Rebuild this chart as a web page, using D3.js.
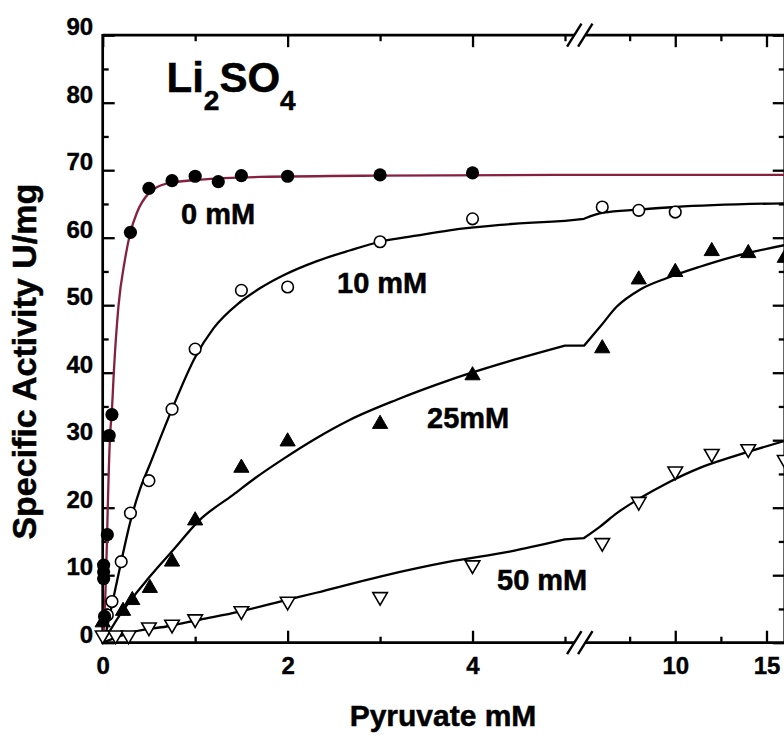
<!DOCTYPE html>
<html><head><meta charset="utf-8">
<script src="https://cdn.jsdelivr.net/npm/d3@7"></script>
<style>
html,body{margin:0;padding:0;background:#fff;}
svg{display:block;font-family:"Liberation Sans",Arial,sans-serif;font-weight:bold;}
</style></head>
<body><svg id="c" width="784" height="736"></svg>
<script>
// ---------- data ----------
const s0x = [0.02, 0.01, 0.01, 0.01, 0.05, 0.07, 0.1, 0.3, 0.5, 0.75, 1, 1.25, 1.5, 2, 3, 4];
const s0y = [3.9, 9.5, 10.5, 11.5, 16.0, 30.7, 33.8, 60.8, 67.3, 68.45, 69.1, 68.3, 69.2, 69.1, 69.3, 69.6];
const s10x = [0.05, 0.1, 0.2, 0.3, 0.5, 0.75, 1, 1.5, 2, 3, 4, 6, 8, 10];
const s10y = [4.1, 6.1, 12.0, 19.2, 24.0, 34.6, 43.5, 52.2, 52.7, 59.4, 62.8, 64.55, 64.05, 63.8];
const s25x = [0, 0.22, 0.32, 0.51, 0.75, 1, 1.5, 2, 3, 4, 6, 8, 10, 12, 14, 16];
const s25y = [3.0, 4.7, 6.3, 8.1, 12.0, 18.1, 25.9, 29.8, 32.4, 39.6, 43.6, 53.8, 54.9, 58.0, 57.7, 57.0];
const s50x = [0, 0.14, 0.28, 0.5, 0.75, 1, 1.5, 2, 3, 4, 6, 8, 10, 12, 14, 16];
const s50y = [1.1, 1.1, 1.1, 2.3, 2.7, 3.5, 4.7, 6.1, 6.8, 11.5, 14.8, 20.9, 25.4, 28.0, 28.7, 27.1];

// fitted curves, left part (0-5) and right part (5-16)
const c0ax = [0, 0.02, 0.047, 0.054, 0.079, 0.1, 0.12, 0.17, 0.24, 0.3, 0.37, 0.5, 0.69, 1.05, 1.7, 3, 5];
const c0ay = [0, 4, 15.6, 19.6, 30.5, 34.5, 40, 49.8, 56.7, 60.8, 63.7, 66.6, 68.0, 68.6, 69.0, 69.2, 69.3];
const c0bx = [5, 16];
const c0by = [69.3, 69.3];
const c10ax = [0.02, 0.1, 0.2, 0.3, 0.4, 0.51, 0.75, 1.0, 1.2, 1.48, 1.7, 1.95, 2.31, 2.67, 3.0, 3.39, 3.75, 4.3, 5];
const c10ay = [0.5, 5.6, 12.0, 18.0, 22.6, 26.4, 34.6, 42.3, 46.6, 50.4, 52.5, 54.4, 56.5, 58.1, 59.4, 60.3, 61.1, 61.9, 62.5];
const c10bx = [5, 6.06, 8, 10, 16];
const c10by = [62.8, 63.7, 64.15, 64.55, 65.1];
const c25ax = [0, 0.19, 0.51, 0.76, 1.05, 1.41, 1.65, 1.95, 2.31, 2.67, 3.18, 3.75, 4.4, 5];
const c25ay = [0, 4.2, 9.8, 13.7, 18.2, 21.9, 24.4, 27.2, 30.3, 33.0, 36.0, 38.9, 41.7, 44.0];
const c25bx = [5, 5.88, 6.8, 8.06, 9.52, 11.35, 13.2, 16];
const c25by = [44.0, 46.8, 49.8, 52.3, 54.0, 55.7, 57.2, 58.9];
const c50ax = [0, 0.33, 0.69, 1.05, 1.48, 1.95, 2.31, 3.0, 3.75, 4.4, 5];
const c50ay = [0, 1.6, 2.4, 3.4, 4.6, 6.2, 7.4, 9.8, 12.0, 13.5, 15.3];
const c50bx = [5, 5.88, 6.8, 8.06, 9.52, 11.35, 13.2, 16];
const c50by = [15.5, 17.2, 19.2, 21.4, 23.6, 25.9, 27.6, 29.9];

const yTicksMajor = [0,10,20,30,40,50,60,70,80,90];
const yTicksMinor = [5,15,25,35,45,55,65,75,85];
const xTicksMajorA = [0,2,4];
const xTicksMinorA = [1,3,5];
const xTicksMajorB = [10,15];
const xTicksMinorB = [7.5,12.5];

// ---------- scales ----------
const svg = d3.select("#c");
const x1 = d3.scaleLinear().domain([0,5]).range([102.7,565]);
const x2 = d3.scaleLinear().domain([5,16]).range([584,784.75]);
const xs = v => v <= 5 ? x1(v) : x2(v);
const y = d3.scaleLinear().domain([0,90]).range([642.7,35.2]);
const X0 = x1(0), X1 = x2(16), Y0 = y(0), Y1 = y(90);
const BR1 = x1(5) + 9.3, BR2 = x2(5) + 1.3;

// ---------- axes ----------
function styleAxis(g){ g.select(".domain").remove(); g.selectAll("line").attr("stroke","#000").attr("stroke-width",2.3); g.selectAll("text").attr("fill","#000").attr("stroke","#000").attr("stroke-width",0.4).style("font-size","24px").style("font-weight","bold").style("font-family","Liberation Sans, Arial, sans-serif"); }

svg.append("g").attr("transform",`translate(${X0},0)`).call(d3.axisLeft(y).tickValues(yTicksMajor).tickSize(-12).tickPadding(9.5)).call(styleAxis).selectAll("text").attr("y",-8);
svg.append("g").attr("transform",`translate(${X0},0)`).call(d3.axisLeft(y).tickValues(yTicksMinor).tickSize(-6).tickFormat("")).call(styleAxis);
svg.append("g").attr("transform",`translate(${X1},0)`).call(d3.axisRight(y).tickValues(yTicksMajor).tickSize(-12).tickFormat("")).call(styleAxis);
svg.append("g").attr("transform",`translate(${X1},0)`).call(d3.axisRight(y).tickValues(yTicksMinor).tickSize(-6).tickFormat("")).call(styleAxis);

[[x1,xTicksMajorA,xTicksMinorA],[x2,xTicksMajorB,xTicksMinorB]].forEach(([sc,maj,min])=>{
  svg.append("g").attr("transform",`translate(0,${Y0})`).call(d3.axisBottom(sc).tickValues(maj).tickSize(-12).tickPadding(14.3).tickFormat(d3.format("d"))).call(styleAxis);
  svg.append("g").attr("transform",`translate(0,${Y0})`).call(d3.axisBottom(sc).tickValues(min).tickSize(-6).tickFormat("")).call(styleAxis);
  svg.append("g").attr("transform",`translate(0,${Y1})`).call(d3.axisTop(sc).tickValues(maj).tickSize(-12).tickFormat("")).call(styleAxis);
  svg.append("g").attr("transform",`translate(0,${Y1})`).call(d3.axisTop(sc).tickValues(min).tickSize(-6).tickFormat("")).call(styleAxis);
});

// axis frame lines with break
const frame = svg.append("g").attr("stroke","#000").attr("stroke-width",2.7).attr("fill","none");
frame.append("line").attr("x1",X0).attr("x2",X0).attr("y1",Y1-1.3).attr("y2",Y0+1.3);
frame.append("line").attr("x1",X1).attr("x2",X1).attr("y1",Y1-1.3).attr("y2",Y0+1.3);
[Y0,Y1].forEach(yy=>{
  frame.append("line").attr("x1",X0).attr("x2",BR1).attr("y1",yy).attr("y2",yy);
  frame.append("line").attr("x1",BR2).attr("x2",X1).attr("y1",yy).attr("y2",yy);
  [BR1,BR2].forEach(bx=>{
    frame.append("line").attr("x1",bx-7.2).attr("y1",yy+11.5).attr("x2",bx+7.2).attr("y2",yy-11.5).attr("stroke-width",2.4);
  });
});

// ---------- curves ----------
const lineA = d3.line().x(d=>x1(d[0])).y(d=>y(d[1])).curve(d3.curveMonotoneX);
const lineB = d3.line().x(d=>x2(d[0])).y(d=>y(d[1])).curve(d3.curveMonotoneX);
const curves = [
  [c0ax,c0ay,c0bx,c0by,"#86203f"],
  [c10ax,c10ay,c10bx,c10by,"#000"],
  [c25ax,c25ay,c25bx,c25by,"#000"],
  [c50ax,c50ay,c50bx,c50by,"#000"]
];
const cg = svg.append("g").attr("fill","none").attr("stroke-width",2.3).attr("stroke-linejoin","round");
curves.forEach(([ax,ay,bx,by,col])=>{
  const A = ax.map((v,i)=>[v,ay[i]]), B = bx.map((v,i)=>[v,by[i]]);
  const pA = lineA(A), pB = lineB(B);
  const conn = `L${x2(B[0][0])},${y(B[0][1])}`;
  cg.append("path").attr("d", pA + conn + pB.replace(/^M/,"L")).attr("stroke",col);
});

// ---------- markers ----------
const mg = svg.append("g");
function pts(xa,ya){ return xa.map((v,i)=>[v,ya[i]]); }
mg.selectAll(".p50").data(pts(s50x,s50y)).join("path")
  .attr("transform",d=>`translate(${xs(d[0])},${y(d[1])}) rotate(180)`)
  .attr("d",d3.symbol(d3.symbolTriangle,92)).attr("fill","#fff").attr("stroke","#000").attr("stroke-width",1.6);
mg.selectAll(".p25").data(pts(s25x,s25y)).join("path")
  .attr("transform",d=>`translate(${xs(d[0])},${y(d[1])})`)
  .attr("d",d3.symbol(d3.symbolTriangle,100)).attr("fill","#000").attr("stroke","#000").attr("stroke-width",1);
mg.selectAll(".p10").data(pts(s10x,s10y)).join("circle")
  .attr("cx",d=>xs(d[0])).attr("cy",d=>y(d[1])).attr("r",5.8).attr("fill","#fff").attr("stroke","#000").attr("stroke-width",1.6);
mg.selectAll(".p0").data(pts(s0x,s0y)).join("circle")
  .attr("cx",d=>xs(d[0])).attr("cy",d=>y(d[1])).attr("r",6.6).attr("fill","#000");

// ---------- texts ----------
const tg = svg.append("g").attr("fill","#000").attr("stroke","#000").attr("stroke-width",0.5);
const t = tg.append("text").attr("x",166.5).attr("y",91.7).style("font-size","42px");
t.append("tspan").text("Li");
t.append("tspan").attr("dy",18.5).style("font-size","28px").text("2");
t.append("tspan").attr("dy",-18.5).text("SO");
t.append("tspan").attr("dy",18.5).style("font-size","28px").text("4");

const lab = [["0 mM",181,223.5],["10 mM",337,293.3],["25mM",427,428.3],["50 mM",497,590]];
lab.forEach(([s,x,yy])=>tg.append("text").attr("x",x).attr("y",yy).style("font-size","29px").text(s));

tg.append("text").attr("x",443).attr("y",726).attr("text-anchor","middle").style("font-size","30px").text("Pyruvate mM");
tg.append("text").attr("transform","translate(36,361.7) rotate(-90)").attr("text-anchor","middle").style("font-size","34px").text("Specific Activity U/mg");
</script></body></html>
